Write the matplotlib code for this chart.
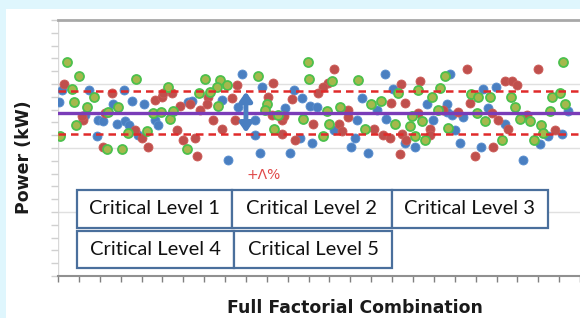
import matplotlib.pyplot as plt
from matplotlib.patches import Rectangle

# series values (x = combination index, y = power)
blue_x = [1.8, 0.5, 15.0, 31.6, 35.6, 41.3, 62.1, 12.9, 19.3, 21.6, 26.5, 28.1, 32.1, 34.0, 38.5,
          46.5, 48.0, 18.5, 88.0, 97.8, 64.0, 78.7, 113.2, 116.7, 86.4, 108.7, 120.7, 123.9, 94.3,
          94.3, 115.9, 121.5, 96.7, 111.1, 81.6, 156.6, 160.6, 145.4, 176.6, 152.6, 186.1, 143.1,
          156.9, 179.7, 132.3, 142.2, 166.2, 140.3, 171.0, 148.3, 187.7, 209.6, 203.7, 186.2, 206.1,
          244.1, 194.1, 188.5, 214.1, 190.1, 234.8, 241.2, 230.8, 192.5, 202.6, 222.6]
blue_y = [14.5, 13.6, 14.5, 14.5, 13.7, 13.4, 13.6, 12.6, 12.2, 12.1, 13.4, 11.9, 12.1, 11.8, 11.0,
          12.2, 11.8, 10.9, 15.8, 14.8, 13.7, 13.75, 14.5, 13.9, 13.2, 13.1, 13.3, 13.2, 12.2,
          11.0, 10.8, 10.4, 9.6, 9.6, 9.1, 15.8, 14.6, 13.9, 13.4, 13.0, 12.8, 12.2,
          12.3, 12.2, 11.4, 10.8, 10.4, 10.1, 10.1, 9.6, 15.8, 14.8, 14.6, 13.4, 13.1,
          12.9, 12.4, 12.6, 11.9, 11.4, 10.9, 11.1, 10.3, 10.4, 10.1, 9.1]

red_x = [3.0, 25.7, 46.5, 49.7, 50.4, 54.7, 58.4, 12.1, 22.5, 36.9, 40.4, 56.8, 60.0, 43.2, 21.7,
         66.4, 85.6, 103.1, 71.7, 63.2, 83.2, 100.7, 111.9, 68.0, 71.2, 102.3, 107.1, 108.4, 74.4,
         84.8, 122.3, 78.7, 65.6, 113.5, 107.1, 132.3, 129.5, 127.1, 164.3, 173.4, 124.7, 159.5,
         166.2, 138.7, 184.5, 138.7, 172.6, 134.6, 135.9, 151.5, 178.2, 155.8, 159.0, 164.6, 178.2,
         166.5, 163.8, 195.7, 229.7, 214.1, 217.3, 219.7, 197.3, 191.7, 207.7, 224.5, 210.9, 215.7,
         238.0, 208.5, 199.7, 11.3]
red_y = [15.0, 14.3, 13.75, 14.0, 14.3, 14.3, 13.3, 12.2, 12.7, 11.4, 10.8, 11.4, 10.6, 10.1, 10.1,
         9.4, 14.9, 15.1, 14.0, 13.4, 13.9, 14.0, 13.8, 13.0, 13.4, 12.6, 12.2, 12.5, 12.2,
         12.2, 11.9, 11.5, 10.8, 10.6, 11.1, 16.2, 15.1, 14.8, 15.0, 15.2, 14.3, 13.5,
         13.5, 13.0, 13.0, 12.4, 12.7, 11.9, 11.3, 11.5, 11.5, 11.0, 10.8, 11.1, 11.0,
         10.6, 9.5, 16.2, 16.2, 15.2, 15.2, 14.9, 13.5, 12.8, 12.7, 12.6, 12.2, 11.5,
         11.4, 10.1, 9.4, 12.5]

green_x = [4.5, 10.1, 6.6, 7.7, 17.4, 37.2, 52.8, 13.7, 8.5, 24.1, 28.6, 33.4, 42.5, 45.6, 49.3,
           53.6, 55.2, 61.6, 1.0, 23.3, 30.5, 95.9, 70.4, 77.6, 76.0, 80.8, 119.9, 120.2, 67.5,
           72.8, 76.8, 100.0, 99.1, 105.5, 117.5, 103.6, 131.1, 143.8, 185.3, 183.0, 162.7, 172.3,
           179.3, 149.9, 154.7, 135.1, 128.7, 181.9, 169.4, 129.8, 161.4, 168.6, 174.2, 147.0,
           127.1, 171.0, 175.8, 197.8, 201.3, 206.9, 217.0, 236.4, 240.4, 242.8, 242.0, 218.9,
           235.6, 200.5, 204.5, 221.3, 226.1, 231.3, 186.6, 232.4, 228.1, 212.8]
green_y = [16.7, 15.6, 14.6, 13.6, 14.0, 15.4, 14.8, 13.2, 11.8, 12.8, 13.2, 11.2, 11.3, 12.7, 12.8,
           12.3, 12.9, 9.9, 10.9, 9.9, 9.9, 15.6, 15.4, 15.3, 14.8, 14.9, 16.7, 15.4, 14.3,
           14.4, 13.3, 13.4, 13.0, 12.6, 12.3, 11.5, 15.2, 15.3, 15.6, 14.7, 14.3, 14.5,
           14.0, 13.4, 13.7, 13.2, 12.9, 13.0, 12.5, 11.9, 11.9, 11.7, 12.1, 11.5,
           10.9, 10.9, 10.6, 14.2, 14.0, 14.0, 14.0, 14.0, 14.3, 13.4, 16.7, 13.2,
           12.9, 12.7, 12.1, 12.3, 12.1, 11.8, 11.6, 11.2, 10.6, 10.6]

mean_power = 12.73
upper_limit = 14.45
lower_limit = 11.1
levels = ['Critical Level 1', 'Critical Level 2', 'Critical Level 3',
          'Critical Level 4', 'Critical Level 5']

fig = plt.figure(figsize=(5.8, 3.18), dpi=100)
fig.patch.set_facecolor('#dff6fd')
fig.patches.append(Rectangle((6 / 580, 0), 1, 309 / 318, transform=fig.transFigure,
                             facecolor='white', edgecolor='none', zorder=-5))

ax = fig.add_axes([58 / 580, 42 / 318, 530 / 580, 256 / 318])
ax.set_facecolor('none')

ms = 42
ax.scatter(blue_x, blue_y, s=ms, color='#4a7fc1', edgecolors='#5a8fd0', linewidths=0.6, zorder=3)
ax.scatter(red_x, red_y, s=ms, color='#c0504d', edgecolors='#cc5c58', linewidths=0.6, zorder=3)
ax.scatter(green_x, green_y, s=ms, color='#a5b84c', edgecolors='#4cc04c', linewidths=1.3, zorder=3)

ax.axhline(mean_power, color='#7a3cb8', lw=2.4, zorder=4)
ax.axhline(upper_limit, color='#e02a2a', lw=1.8, ls=(0, (3, 2)), zorder=4)
ax.axhline(lower_limit, color='#e02a2a', lw=1.8, ls=(0, (3, 2)), zorder=4)

# the +/- band arrow
ax.annotate('', xy=(90, 14.4), xytext=(90, 11.2),
            arrowprops=dict(arrowstyle='<|-|>,head_length=0.5,head_width=0.35',
                            mutation_scale=10, color='#4a7fc1', lw=3.5,
                            shrinkA=0, shrinkB=0), zorder=5)
ax.text(98.5, 7.9, '+Λ%', color='#e04848', fontsize=10, ha='center', va='center',
        family='DejaVu Sans')

ax.set_xlim(0, 253.8)
ax.set_ylim(0, 20)
ax.set_xticks(range(0, 254, 10))
ax.set_xticklabels([])
ax.set_yticks(range(0, 21))
ax.set_yticklabels([])
ax.tick_params(axis='x', length=4, width=1, color='#808080', direction='out')
ax.tick_params(axis='y', length=5, width=1, color='#d0d0d0', direction='out')
for y in (5, 10, 15):
    ax.axhline(y, color='#e0e0e0', lw=1, zorder=1)
for side in ('left', 'right'):
    ax.spines[side].set_visible(False)
ax.spines['top'].set_color('#a8a8a8')
ax.spines['top'].set_linewidth(2)
ax.spines['bottom'].set_color('#909090')
ax.spines['bottom'].set_linewidth(1.5)
ax.axvline(0, color='#d8d8d8', lw=1, zorder=1)

# critical level boxes (pixel extents in the reference)
boxes = [(77, 232, 190, 228), (232, 392, 190, 228), (392, 548, 190, 228),
         (77, 234, 231, 268), (234, 392, 231, 268)]
for label, (x0, x1, y0, y1) in zip(levels, boxes):
    fig.patches.append(Rectangle((x0 / 580, 1 - y1 / 318), (x1 - x0) / 580, (y1 - y0) / 318,
                                 transform=fig.transFigure, facecolor='white',
                                 edgecolor='#4a6f9c', lw=1.6, zorder=6))
    fig.text((x0 + x1) / 2 / 580, 1 - (y0 + y1) / 2 / 318, label, ha='center', va='center',
             fontsize=14.5, family='Lato', color='#111111', zorder=7)

fig.text(24 / 580, 1 - 157 / 318, 'Power (kW)', rotation=90, ha='center', va='center',
         fontsize=12.5, fontweight='bold', family='DejaVu Sans', color='#1a1a1a')
fig.text(355 / 580, 1 - 308 / 318, 'Full Factorial Combination', ha='center', va='center',
         fontsize=12.4, fontweight='bold', family='DejaVu Sans', color='#1a1a1a')

fig.savefig('out.png', dpi=100, facecolor=fig.get_facecolor())
